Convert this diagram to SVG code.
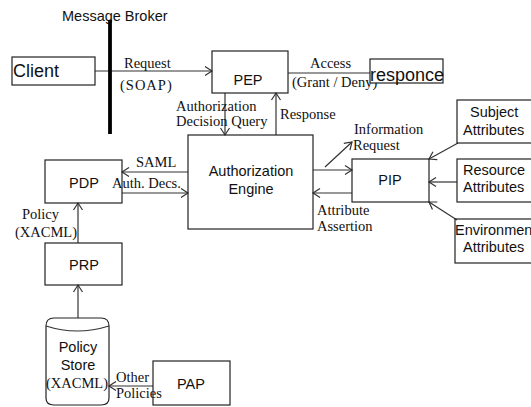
<svg xmlns="http://www.w3.org/2000/svg" width="531" height="407" viewBox="0 0 531 407">
  <style>
    .box { fill: none; stroke: #222; stroke-width: 1.2; }
    .lbl { font-family: "Liberation Sans", Arial, sans-serif; font-size: 14.5px; fill: #111; }
    .big { font-family: "Liberation Sans", Arial, sans-serif; font-size: 18px; fill: #111; }
    .ser { font-family: "Liberation Serif", "Times New Roman", serif; font-size: 14.5px; fill: #111; }
    .mid { text-anchor: middle; }
    .wire { fill: none; stroke: #333; stroke-width: 1.2; marker-end: url(#open); }
    .plain { fill: none; stroke: #333; stroke-width: 1.2; }
  </style>
  <defs>
    <marker id="open" markerUnits="userSpaceOnUse" markerWidth="12" markerHeight="12" viewBox="-10 -6 12 12" refX="0" refY="0" orient="auto">
      <path d="M-7,-4.5 L0,0 L-7,4.5" fill="none" stroke="#333" stroke-width="1.2"/>
    </marker>
  </defs>
  <rect width="531" height="407" fill="#fff"/>

  <!-- message broker bus -->
  <g id="broker">
    <text class="lbl" x="62" y="21">Message Broker</text>
  </g>

  <!-- connectors -->
  <g id="connectors">
    <line class="wire" x1="95" y1="71" x2="212" y2="71"/>
    <line class="plain" x1="288" y1="73" x2="370" y2="73"/>
    <line class="wire" x1="225" y1="93" x2="225" y2="135"/>
    <line class="wire" x1="276" y1="135" x2="276" y2="93"/>
    <line class="wire" x1="188" y1="172" x2="122" y2="172"/>
    <line class="wire" x1="122" y1="193" x2="188" y2="193"/>
    <line class="wire" x1="313" y1="170" x2="352" y2="170"/>
    <line class="wire" x1="325" y1="167" x2="352" y2="142"/>
    <line class="wire" x1="352" y1="193" x2="313" y2="193"/>
    <line class="wire" x1="458" y1="143" x2="429" y2="159"/>
    <line class="wire" x1="457" y1="182" x2="429" y2="182"/>
    <line class="wire" x1="457" y1="220" x2="429" y2="202"/>
    <line class="wire" x1="78" y1="243" x2="78" y2="203"/>
    <line class="wire" x1="78" y1="318" x2="78" y2="285"/>
    <line class="wire" x1="153" y1="386" x2="109" y2="386"/>

    <text class="ser" x="124" y="68">Request</text>
    <text class="ser" x="120" y="90" letter-spacing="1">(SOAP)</text>
    <text class="ser" x="310" y="68">Access</text>
    <text class="ser" x="292" y="87">(Grant / Deny)</text>
    <text class="ser" x="176" y="111">Authorization</text>
    <text class="ser" x="176" y="126">Decision Query</text>
    <text class="ser" x="280" y="119">Response</text>
    <text class="ser" x="136" y="167">SAML</text>
    <text class="ser" x="112" y="188">Auth. Decs.</text>
    <text class="ser" x="354" y="134">Information</text>
    <text class="ser" x="353" y="150">Request</text>
    <text class="ser" x="317" y="215">Attribute</text>
    <text class="ser" x="317" y="231">Assertion</text>
    <text class="ser" x="22" y="219">Policy</text>
    <text class="ser" x="15" y="237">(XACML)</text>
    <text class="ser" x="116" y="382">Other</text>
    <text class="ser" x="116" y="398">Policies</text>
  </g>

  <line x1="110" y1="20" x2="110" y2="134" stroke="#000" stroke-width="3.8"/>

  <g id="client">
    <rect class="box" x="12" y="57" width="83" height="28"/>
    <text class="big" x="13" y="77">Client</text>
  </g>

  <g id="pep">
    <rect class="box" x="212" y="51" width="76" height="42"/>
    <text class="lbl mid" x="248" y="85">PEP</text>
  </g>

  <g id="responce">
    <rect class="box" x="370" y="59" width="73" height="24" style="fill:#fff"/>
    <text class="big" x="370" y="81">responce</text>
  </g>

  <g id="engine">
    <rect class="box" x="188" y="135" width="125" height="94"/>
    <text class="lbl mid" x="251" y="176">Authorization</text>
    <text class="lbl mid" x="251" y="194">Engine</text>
  </g>

  <g id="pdp">
    <rect class="box" x="45" y="160" width="77" height="43"/>
    <text class="lbl mid" x="84" y="188">PDP</text>
  </g>

  <g id="prp">
    <rect class="box" x="45" y="243" width="77" height="42"/>
    <text class="lbl mid" x="84" y="270">PRP</text>
  </g>

  <g id="policy-store">
    <path class="box" d="M46,326 Q46,318 54,318 L101,318 Q109,318 109,326 L109,398 Q109,405 101,405 L54,405 Q46,405 46,398 Z"/>
    <path class="plain" d="M46,326 Q77,336 109,326"/>
    <text class="lbl mid" x="78" y="352">Policy</text>
    <text class="lbl mid" x="78" y="370">Store</text>
    <text class="ser mid" x="77" y="388">(XACML)</text>
  </g>

  <g id="pap">
    <rect class="box" x="153" y="361" width="77" height="44"/>
    <text class="lbl mid" x="191" y="389">PAP</text>
  </g>

  <g id="pip">
    <rect class="box" x="352" y="159" width="77" height="43"/>
    <text class="lbl mid" x="390" y="185">PIP</text>
  </g>

  <g id="subject-attributes">
    <rect class="box" x="457" y="100" width="90" height="43"/>
    <text class="lbl" x="470" y="117">Subject</text>
    <text class="lbl" x="463" y="135">Attributes</text>
  </g>

  <g id="resource-attributes">
    <rect class="box" x="457" y="159" width="90" height="43"/>
    <text class="lbl" x="463" y="175">Resource</text>
    <text class="lbl" x="463" y="192">Attributes</text>
  </g>

  <g id="environment-attributes">
    <rect class="box" x="455" y="219" width="90" height="44"/>
    <text class="lbl" x="455" y="235">Environment</text>
    <text class="lbl" x="463" y="252">Attributes</text>
  </g>
</svg>
